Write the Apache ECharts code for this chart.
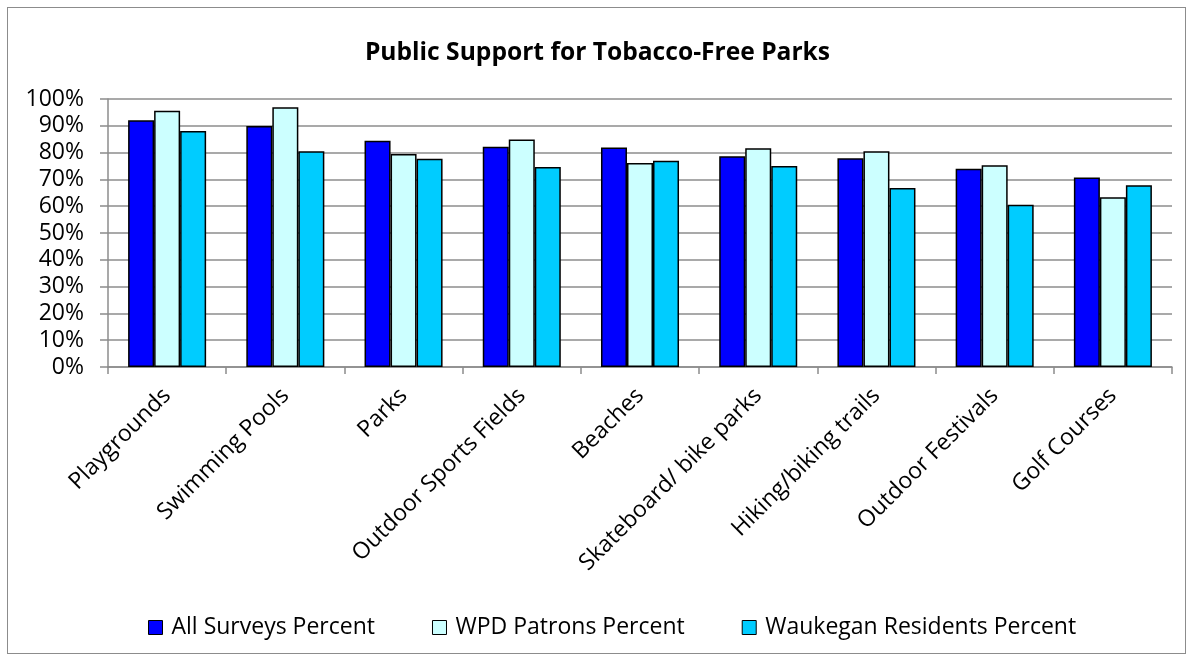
<!DOCTYPE html>
<html>
<head>
<meta charset="utf-8">
<script src="https://cdn.jsdelivr.net/npm/echarts@6/dist/echarts.min.js"></script>
<style>
html,body{margin:0;padding:0;background:#fff;}
#wrap{position:absolute;left:7px;top:7px;width:1179px;height:647px;border:1.5px solid #8c8c8c;box-sizing:border-box;}
#c{position:absolute;left:0;top:0;width:1195px;height:662px;}
</style>
</head>
<body>
<div id="wrap"></div>
<div id="c"></div>
<script>
const categories = ["Playgrounds","Swimming Pools","Parks","Outdoor Sports Fields","Beaches","Skateboard/ bike parks","Hiking/biking trails","Outdoor Festivals","Golf Courses"];
const allSurveys = [92.1, 89.9, 84.4, 82.2, 81.9, 78.6, 77.9, 74.0, 70.7];
const wpdPatrons = [95.6, 96.9, 79.5, 84.9, 76.1, 81.6, 80.5, 75.3, 63.3];
const waukegan = [88.1, 80.5, 77.7, 74.6, 77.0, 75.0, 66.8, 60.5, 67.8];
const seriesNames = ["All Surveys Percent","WPD Patrons Percent","Waukegan Residents Percent"];
const colors = ["#0000FF","#CCFFFF","#00CCFF"];
const FONT = "'Open Sans', Lato, sans-serif";

const chart = echarts.init(document.getElementById('c'));
const mk = (name, data, color) => ({
  name, type: 'bar', data, barGap: '0%', barCategoryGap: '34%',
  itemStyle: {color, borderColor: '#000', borderWidth: 1.5},
  emphasis: {disabled: true}
});
chart.setOption({
  animation: false,
  textStyle: {fontFamily: FONT},
  title: {
    text: 'Public Support for Tobacco-Free Parks',
    left: 'center', top: 35,
    textStyle: {fontFamily: FONT, fontSize: 24.6, fontWeight: 'bold', color: '#000'}
  },
  legend: {
    bottom: 18, left: 143, itemWidth: 14, itemHeight: 14, itemGap: 57,
    icon: 'rect',
    textStyle: {fontFamily: FONT, fontSize: 23, color: '#000', padding: [0,0,0,4]},
    itemStyle: {borderColor: '#000', borderWidth: 1}
  },
  grid: {left: 108, right: 23, top: 99, bottom: 295, containLabel: false},
  xAxis: {
    type: 'category', data: categories,
    axisLine: {lineStyle: {color: '#8c8c8c', width: 1.5}},
    axisTick: {show: true, length: 7, lineStyle: {color: '#8c8c8c', width: 1.5}},
    axisLabel: {rotate: 45, fontSize: 23, color: '#000', fontFamily: FONT, margin: 25, interval: 0}
  },
  yAxis: {
    type: 'value', min: 0, max: 100, interval: 10,
    axisLine: {show: true, lineStyle: {color: '#8c8c8c', width: 1.5}},
    axisTick: {show: true, length: 8, lineStyle: {color: '#8c8c8c', width: 1.5}},
    axisLabel: {formatter: '{value}%', fontSize: 23, color: '#000', fontFamily: FONT, margin: 24},
    splitLine: {lineStyle: {color: '#8c8c8c', width: 1.5}}
  },
  series: [
    mk(seriesNames[0], allSurveys, colors[0]),
    mk(seriesNames[1], wpdPatrons, colors[1]),
    mk(seriesNames[2], waukegan, colors[2])
  ]
});
</script>
</body>
</html>
